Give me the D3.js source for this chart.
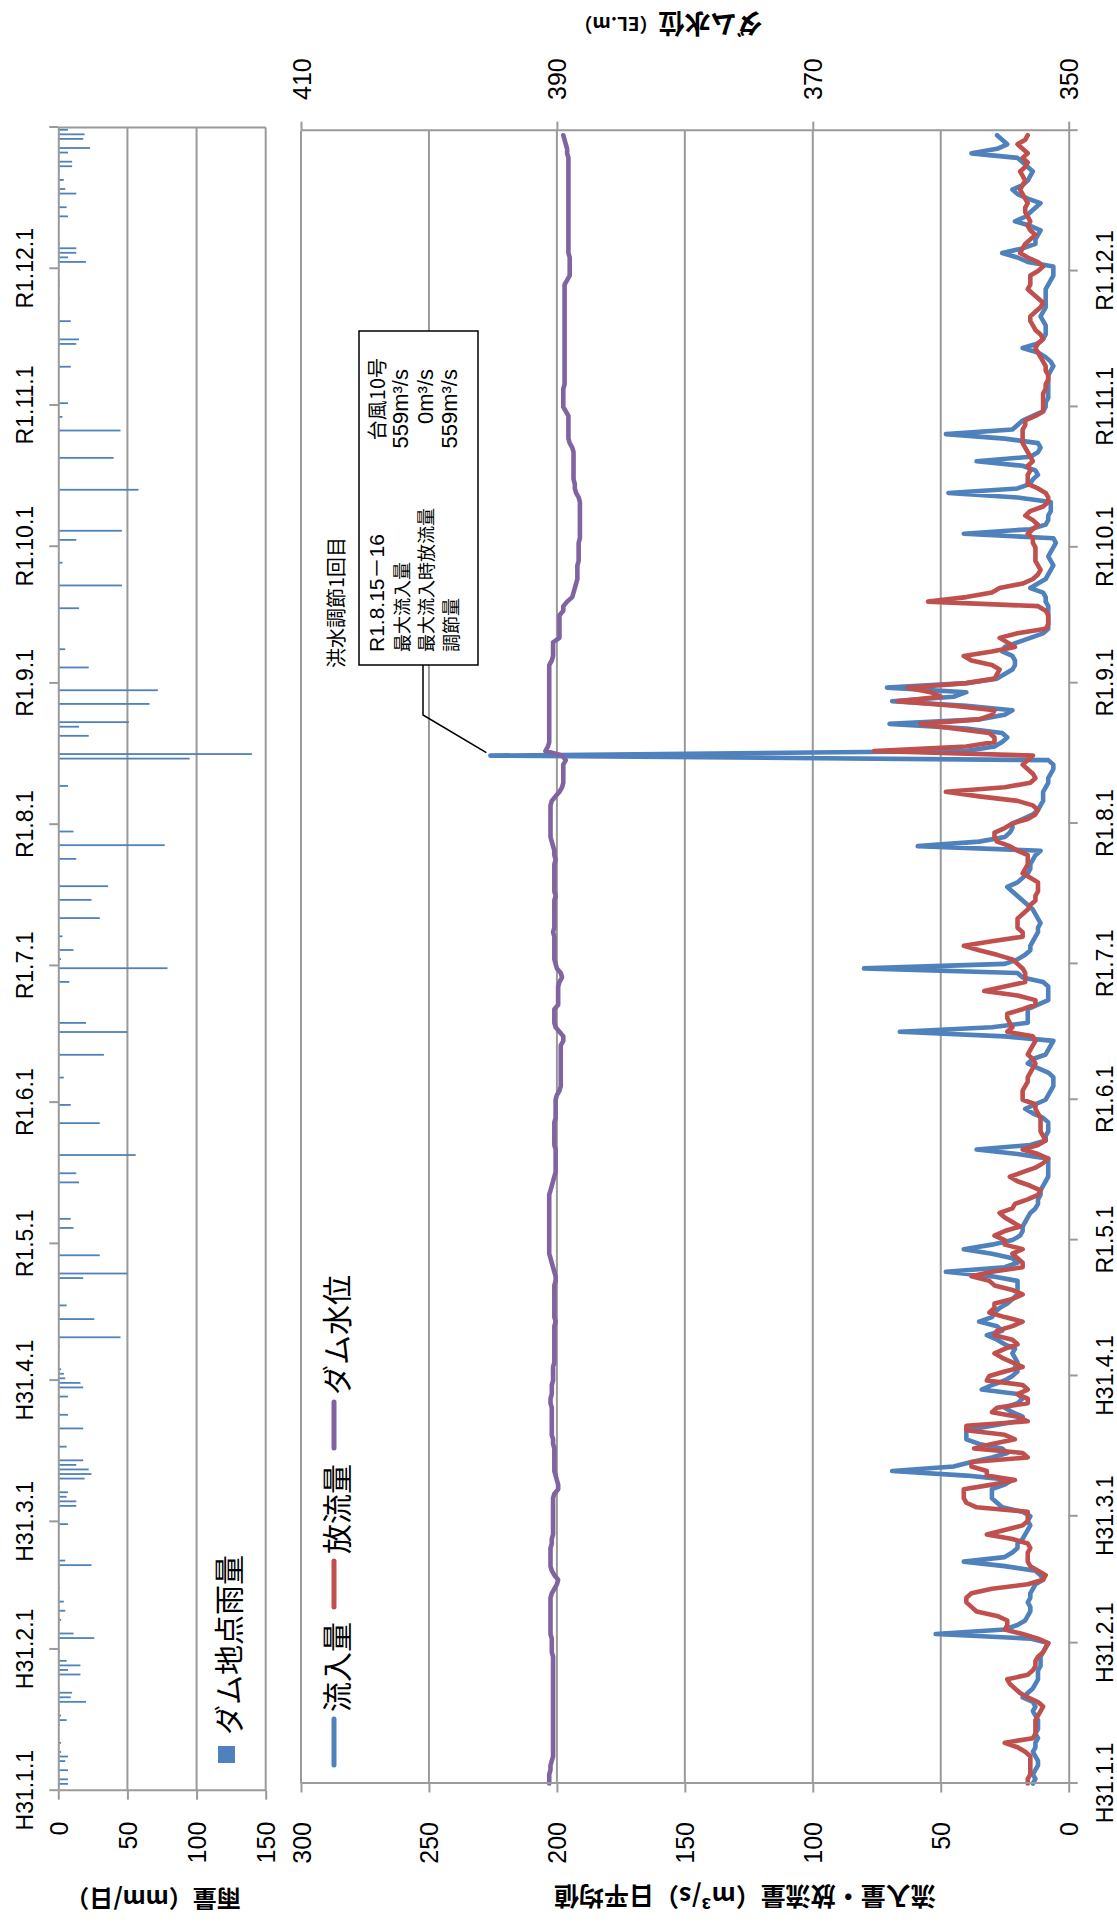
<!DOCTYPE html>
<html><head><meta charset="utf-8">
<script src="https://cdn.jsdelivr.net/npm/d3@7"></script>
<style>html,body{margin:0;padding:0;background:#fff;} svg{display:block;}</style>
</head><body>
<svg id="chart" width="1117" height="1922"></svg>
<script>
// ---- categories ----
const startDate = new Date(2019, 0, 1);
const endDate = new Date(2020, 0, 1);
const monthTickLabels = ["H31.1.1","H31.2.1","H31.3.1","H31.4.1","R1.5.1","R1.6.1","R1.7.1","R1.8.1","R1.9.1","R1.10.1","R1.11.1","R1.12.1",""];
const flowTicks = [0,50,100,150,200,250,300];
const levelTicks = [350,370,390,410];
const rainTicks = [0,50,100,150];
const seriesNames = ["流入量","放流量","ダム水位"];
const rainName = "ダム地点雨量";

// ---- daily inflow (m3/s) ----
const inflow = [
14,13,14,13,12,12,13,14,13,13, 12,13,12,12,12,13,14,13,14,18, 16,14,13,12,12,12,11,11,11,10, 9,
8,15,52,25,20,17,16,15,15,16, 15,15,14,13,10,11,13,25,41,25, 22,20,20,18,17,16,15,16,
15,18,26,28,30,30,30,25,22,40, 69,45,38,30,24,26,35,40,40,40, 30,20,18,22,25,20,18,20,34,30, 25,
22,20,21,20,21,22,21,25,28,32, 26,28,35,30,29,27,24,22,20,20, 20,20,30,48,25,20,22,30,41,30,
22,19,18,18,17,16,15,13,12,12, 11,11,10,9,8,8,8,8,8,20, 36,15,9,9,8,8,8,10,14,17, 13,
9,8,7,6,6,6,8,12,16,14, 9,8,7,6,25,66,30,16,16,16, 16,12,8,8,8,8,10,18,20,80,
25,20,17,15,15,14,13,12,12,11, 12,13,14,16,18,20,22,24,20,18, 16,15,15,14,13,11,59,35,25,23, 22,
22,18,14,12,11,10,10,10,9,8, 8,7,6,6,8,226,40,29,26,24, 26,40,70,35,25,22,40,69,45,40, 71,
40,28,25,22,21,21,22,26,25,20, 15,10,8,8,8,8,8,8,9,9, 10,15,12,9,8,7,6,7,8,7,
6,5,6,41,15,9,8,8,7,7, 7,20,47,20,15,14,12,13,18,36, 15,12,11,12,25,48,22,20,18,14, 10,
9,9,8,8,8,8,8,8,7,6, 7,9,12,18,12,10,9,9,9,10, 11,10,9,9,9,9,9,8,7,6,
6,6,16,20,26,18,13,13,12,11, 15,21,17,15,13,11,16,20,22,18, 16,15,14,16,18,20,38,28,24,26, 28
];

// ---- daily outflow (m3/s) ----
const outflow = [
16,16,15,15,15,15,15,17,20,25, 14,13,13,13,13,12,11,10,12,16, 19,21,23,24,16,14,13,13,12,10, 9,
8,12,18,25,24,24,28,36,38,40, 40,38,30,16,10,9,12,15,16,16, 16,15,16,22,32,25,18,16,
16,16,36,40,41,41,41,30,21,32, 32,38,38,16,18,37,30,21,25,40, 40,16,20,30,28,16,16,20,16,18, 32,
31,25,18,22,26,29,25,20,22,29, 28,22,18,25,31,29,29,22,18,22, 29,31,38,30,18,18,20,22,18,25,
25,29,25,19,22,25,27,22,21,16, 12,11,15,20,23,18,13,10,8,12, 18,12,9,10,11,11,11,11,12,13, 13,
18,18,18,17,16,16,15,14,13,14, 16,15,14,13,14,24,22,23,24,24, 18,13,13,20,33,25,17,17,17,18,
20,22,28,35,41,30,18,18,20,20, 20,18,16,15,13,13,12,12,12,15, 18,17,16,16,16,20,23,28,29,29, 25,
22,16,13,12,14,20,35,48,25,15, 13,14,16,18,16,14,76,40,29,29, 31,45,58,35,30,29,45,67,50,54, 63,
40,29,28,27,30,38,41,30,21,24, 27,20,9,8,8,8,9,12,55,40, 30,27,18,14,12,11,12,13,13,13,
13,14,14,16,14,12,14,17,15,10, 8,8,9,12,16,16,16,15,16,14, 15,16,17,18,18,18,18,17,17,13, 10,
10,10,10,10,9,9,8,8,9,9, 10,11,12,13,12,10,11,13,14,15, 15,13,11,10,12,14,16,15,15,15,
12,10,12,16,19,18,17,15,13,15, 16,15,16,17,17,16,17,18,19,18, 17,18,19,17,16,18,16,18,20,17, 16
];

// ---- daily dam water level (EL.m) ----
const level = [
390.6,390.6,390.6,390.5,390.5,390.4,390.3,390.3,390.3,390.3, 390.3,390.3,390.3,390.3,390.3,390.3,390.3,390.3,390.3,390.3, 390.3,390.3,390.3,390.3,390.3,390.3,390.3,390.3,390.3,390.4, 390.4,
390.4,390.4,390.5,390.5,390.5,390.5,390.5,390.5,390.5,390.5, 390.5,390.4,390.2,390.0,389.9,390.2,390.4,390.5,390.5,390.5, 390.5,390.5,390.4,390.4,390.3,390.3,390.3,390.3,
390.3,390.3,390.3,390.3,390.3,390.2,389.9,389.9,390.0,390.1, 390.2,390.2,390.2,390.2,390.2,390.2,390.3,390.3,390.4,390.4, 390.4,390.4,390.4,390.4,390.4,390.5,390.5,390.4,390.4,390.4, 390.3,
390.3,390.3,390.3,390.2,390.2,390.2,390.2,390.2,390.2,390.2, 390.2,390.2,390.1,390.2,390.2,390.2,390.2,390.2,390.2,390.2, 390.2,390.1,390.1,390.2,390.3,390.4,390.5,390.6,390.6,390.6,
390.6,390.6,390.6,390.6,390.6,390.6,390.6,390.6,390.6,390.6, 390.6,390.5,390.4,390.3,390.2,390.1,390.1,390.1,390.1,390.1, 390.1,390.2,390.2,390.2,390.2,390.2,390.2,390.1,390.1,390.1, 390.1,
390.1,390.0,389.8,389.7,389.7,389.7,389.7,389.7,389.7,389.7, 389.7,389.7,389.7,389.5,389.5,389.8,390.1,390.2,390.2,390.2, 390.2,389.9,389.9,389.9,389.9,389.9,389.8,389.6,389.7,390.0,
390.1,390.2,390.2,390.2,390.2,390.2,390.2,390.3,390.2,390.2, 390.2,390.2,390.2,390.2,390.2,390.1,390.2,390.2,390.2,390.2, 390.2,390.2,390.2,390.1,390.2,390.2,390.3,390.4,390.5,390.5, 390.5,
390.5,390.5,390.5,390.5,390.5,390.4,390.1,389.8,389.6,389.5, 389.5,389.5,389.5,389.5,389.3,389.6,390.9,390.7,390.6,390.6, 390.6,390.6,390.6,390.6,390.6,390.6,390.6,390.6,390.6,390.6, 390.6,
390.6,390.6,390.6,390.6,390.6,390.4,390.3,390.3,390.3,390.3, 389.8,389.8,389.8,389.8,389.8,389.8,389.5,389.5,389.2,388.8, 388.7,388.6,388.5,388.4,388.4,388.4,388.4,388.3,388.3,388.3,
388.3,388.3,388.2,388.2,388.2,388.2,388.2,388.2,388.2,388.2, 388.2,388.3,388.5,388.6,388.6,388.7,388.7,388.7,388.7,388.7, 388.7,388.7,388.8,389.0,389.1,389.1,389.1,389.1,389.1,389.1, 389.3,
389.5,389.5,389.5,389.5,389.5,389.4,389.4,389.4,389.4,389.4, 389.4,389.4,389.4,389.4,389.4,389.4,389.4,389.4,389.4,389.4, 389.4,389.4,389.4,389.4,389.4,389.4,389.4,389.4,389.2,389.0,
389.0,389.0,389.0,389.0,389.1,389.1,389.1,389.1,389.1,389.1, 389.1,389.1,389.1,389.1,389.1,389.1,389.1,389.1,389.1,389.1, 389.1,389.1,389.1,389.1,389.1,389.1,389.2,389.2,389.3,389.4, 389.5
];

// ---- daily rainfall at dam (mm/day) ----
const rain = [
0,7,7,0,7,0,5,7,2,0, 2,0,0,0,1,6,2,1,0,20, 9,10,1,0.5,0,16,7,16,6,0, 1,
0.5,0,26,11,0,0,2,0,5,0, 4,0,0,1,0,0,0,0,24,5, 0,0,0,0,0,0,0,7,
0,0,0,13,13,6,7,1,0,19, 24,22,13,18,0,0,6,0,0,0, 18,0,0,7,0,1,0,7,0,18, 16,
5,4,2,0,0,0,0,1,0,45, 0,0,0,26,1,0,6,0,0,0, 0,0,18,50,0,0,0,30,0,0,
0,0,0,11,0,9,0,0,0,0, 0,0,0,15,0,13,0,0,0,56, 0,0,0,0,0,0,30,0,0,0, 9,
0,0,0,0,0,4,0,0,0,0, 33,0,0,0,0,50,0,20,0,0, 0,0,0,0,0,0,8,0,0,79,
0,2,0,11,0,0,3,0,0,0, 30,0,0,0,24,0,0,36,0,0, 0,0,0,13,0,0,77,0,0,11, 0,
0,0,0,0,0,0,0,0,7,0, 0,0,0,0,95,140,0,0,0,22, 0,15,51,0,0,0,66,0,0,72, 0,
0,0,0,22,0,0,0,5,0,0, 0,0,0,0,0,0,15,0,0,0, 0,46,0,0,0,0,3,0,0,0,
0,13,0,46,0,0,0,0,0,0, 0,0,58,0,0,0,0,0,0,40, 0,0,0,0,0,45,0,0,3,0, 0,
7,0,0,0,0,0,0,0,9,0, 0,0,0,13,15,0,0,0,9,0, 0,0,0,1,0,0,1,1,0,0,
0,20,7,13,13,1,0,0,0,0, 0,7,0,6,0,0,13,5,0,4, 0,1,10,10,0,7,23,0,18,19, 7
];

// ---- annotation ----
const noteTitle = "洪水調節1回目";
const noteLabels = ["R1.8.15－16","最大流入量","最大流入時放流量","調節量"];
const noteValues = ["台風10号","559m³/s","0m³/s","559m³/s"];
const noteDate = new Date(2019, 7, 16);

// ---- drawing ----
const FONT = '"Liberation Sans", "Noto Sans CJK JP", sans-serif';
const FONTJP = '"Noto Sans CJK JP", "Liberation Sans", sans-serif';
const GRID = '#9a9a9a';
const C_IN = '#4F81BD', C_OUT = '#C0504D', C_LV = '#8064A2';

const dates = d3.timeDay.range(startDate, endDate);
const monthStarts = d3.timeMonth.range(startDate, d3.timeDay.offset(endDate, 1));

const svg = d3.select('#chart');
svg.append('rect').attr('width',1117).attr('height',1922).attr('fill','#fff');
// chart is drawn in landscape coords then rotated 90deg counter-clockwise
const g = svg.append('g').attr('transform','translate(0,1922) rotate(-90)');

// scales
const xRain = d3.scaleTime().domain([startDate, endDate]).range([131.3, 1794.5]);
const yRain = d3.scaleLinear().domain([0,150]).range([58.3, 265.7]);
const xMain = d3.scaleTime().domain([startDate, endDate]).range([138.5, 1791.3]);
const yFlow = d3.scaleLinear().domain([0,300]).range([1068.7, 301]);
const yLevel = d3.scaleLinear().domain([350,410]).range([1068.7, 301]);

function styleAxis(sel, fs) {
  sel.attr('font-family', FONT).attr('font-size', fs);
  sel.selectAll('path.domain').attr('stroke', GRID).attr('stroke-width', 2);
  sel.selectAll('.tick line').attr('stroke', GRID).attr('stroke-width', 2);
  sel.selectAll('.tick text').attr('fill', '#000');
}
const labelFor = d => { const i = monthStarts.findIndex(m => +m === +d); return monthTickLabels[i] || ''; };

// ===== Rain chart =====
const rainG = g.append('g');
rainTicks.filter(v => v > 0).forEach(v => {
  rainG.append('line').attr('x1', xRain.range()[0]).attr('x2', xRain.range()[1])
    .attr('y1', yRain(v)).attr('y2', yRain(v)).attr('stroke', GRID).attr('stroke-width', 2);
});
rainG.append('line').attr('x1', xRain.range()[1]).attr('x2', xRain.range()[1])
  .attr('y1', yRain(0)).attr('y2', yRain(150)).attr('stroke', GRID).attr('stroke-width', 2);

rainG.selectAll('rect.bar').data(rain).join('rect').attr('class','bar')
  .attr('x', (d,i) => xRain(d3.timeHour.offset(dates[i], 12)) - 0.9)
  .attr('width', 1.8)
  .attr('y', yRain(0))
  .attr('height', d => yRain(d) - yRain(0))
  .attr('fill', C_IN);

rainG.append('g').attr('transform', `translate(0,${yRain(0)})`)
  .call(d3.axisTop(xRain).tickValues(monthStarts).tickSize(9).tickSizeOuter(0).tickPadding(16).tickFormat(labelFor))
  .call(s => styleAxis(s, 23));
const rainAxis = rainG.append('g').attr('transform', `translate(${xRain.range()[0]},0)`)
  .call(d3.axisLeft(yRain).tickValues(rainTicks).tickSize(9).tickSizeOuter(0).tickPadding(22).tickFormat(d3.format('d')))
  .call(s => styleAxis(s, 25));
rainAxis.selectAll('.tick text').attr('dy', '0.36em');

// rain legend
rainG.append('rect').attr('x', 159).attr('y', 218).attr('width', 17).attr('height', 17).attr('fill', C_IN);
rainG.append('text').attr('x', 187).attr('y', 227).attr('dominant-baseline','central')
  .attr('font-family', FONTJP).attr('font-size', 30).text(rainName);

// rain axis title
rainG.append('text').attr('transform', 'translate(22,153) rotate(-90)')
  .attr('text-anchor','middle').attr('dominant-baseline','central')
  .attr('font-family', FONTJP).attr('font-size', 24).attr('font-weight', 700).text('雨量（mm/日）');

// ===== Main chart =====
const mainG = g.append('g');
flowTicks.filter(v => v > 0).forEach(v => {
  mainG.append('line').attr('x1', xMain.range()[0]).attr('x2', xMain.range()[1])
    .attr('y1', yFlow(v)).attr('y2', yFlow(v)).attr('stroke', GRID).attr('stroke-width', 2);
});

const lineFlow = d3.line().x((d,i) => xMain(dates[i])).y(d => yFlow(d));
const lineLevel = d3.line().x((d,i) => xMain(dates[i])).y(d => yLevel(d));
[[inflow, C_IN, lineFlow],[outflow, C_OUT, lineFlow],[level, C_LV, lineLevel]].forEach(([data, color, gen]) => {
  mainG.append('path').datum(data).attr('d', gen).attr('fill','none').attr('stroke', color)
    .attr('stroke-width', 4.6).attr('stroke-linejoin','round').attr('stroke-linecap','round');
});

// axes
mainG.append('g').attr('transform', `translate(0,${yFlow(0)})`)
  .call(d3.axisBottom(xMain).tickValues(monthStarts).tickSize(9).tickSizeOuter(0).tickPadding(19).tickFormat(labelFor))
  .call(s => styleAxis(s, 23));
const flowAxis = mainG.append('g').attr('transform', `translate(${xMain.range()[0]},0)`)
  .call(d3.axisLeft(yFlow).tickValues(flowTicks).tickSize(9).tickSizeOuter(0).tickPadding(29.5).tickFormat(d3.format('d')))
  .call(s => styleAxis(s, 25));
const levelAxis = mainG.append('g').attr('transform', `translate(${xMain.range()[1]},0)`)
  .call(d3.axisRight(yLevel).tickValues(levelTicks).tickSize(9).tickSizeOuter(0).tickPadding(21.7).tickFormat(d3.format('d')))
  .call(s => styleAxis(s, 25));
flowAxis.selectAll('.tick text').attr('dy','0.36em');
levelAxis.selectAll('.tick text').attr('dy','0.36em');

// axis titles
mainG.append('text').attr('transform', 'translate(24,745) rotate(-90)')
  .attr('text-anchor','middle').attr('dominant-baseline','central')
  .attr('font-family', FONTJP).attr('font-size', 25).attr('font-weight', 700)
  .text('流入量・放流量（m³/s）日平均値');
const t2 = mainG.append('text').attr('transform', 'translate(1896,668) rotate(-90)')
  .attr('text-anchor','middle').attr('dominant-baseline','central')
  .attr('font-family', FONTJP).attr('font-weight', 700);
t2.append('tspan').attr('font-size', 26).text('ダム水位');
t2.append('tspan').attr('font-size', 19).text('（EL.m）');

// legend
const legendItems = [
  {name: seriesNames[0], color: C_IN, x: 157},
  {name: seriesNames[1], color: C_OUT, x: 315},
  {name: seriesNames[2], color: C_LV, x: 474}
];
legendItems.forEach(it => {
  mainG.append('line').attr('x1', it.x).attr('x2', it.x + 46).attr('y1', 334).attr('y2', 334)
    .attr('stroke', it.color).attr('stroke-width', 5).attr('stroke-linecap','round');
  mainG.append('text').attr('x', it.x + 53).attr('y', 335).attr('dominant-baseline','central')
    .attr('font-family', FONTJP).attr('font-size', 30).text(it.name);
});

// annotation
const peakIdx = dates.findIndex(d => +d === +noteDate);
const peakX = xMain(noteDate), peakY = yFlow(inflow[peakIdx]);
mainG.append('polyline').attr('points', `1257,423 1207,423 ${peakX+3},${peakY-4}`)
  .attr('fill','none').attr('stroke','#000').attr('stroke-width',1.5);
mainG.append('rect').attr('x', 1257).attr('y', 359).attr('width', 334).attr('height', 119)
  .attr('fill','#fff').attr('stroke','#000').attr('stroke-width',1.5);
mainG.append('text').attr('x', 1254).attr('y', 335).attr('dominant-baseline','central')
  .attr('font-family', FONTJP).attr('font-size', 20).text(noteTitle);
noteLabels.forEach((t,i) => {
  const yy = 376 + i*24.5;
  mainG.append('text').attr('x', 1270).attr('y', yy).attr('dominant-baseline','central')
    .attr('font-family', i === 0 ? FONT : FONTJP).attr('font-size', i === 0 ? 21 : 18).text(t);
  mainG.append('text').attr('x', i === 0 ? 1564 : 1553).attr('y', yy).attr('dominant-baseline','central')
    .attr('text-anchor','end').attr('font-family', i === 0 ? FONTJP : FONT)
    .attr('font-size', i === 0 ? 20 : 22).text(noteValues[i]);
});
</script>
</body></html>
